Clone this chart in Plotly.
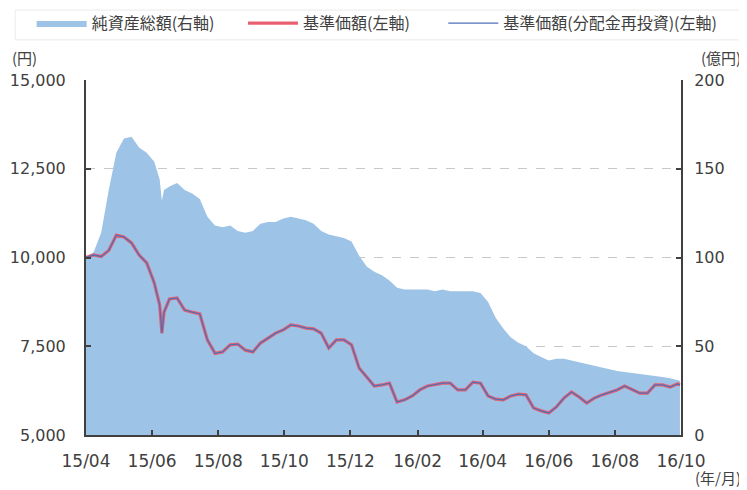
import plotly.graph_objects as go

dates = [
    "2015-04-01", "2015-04-08", "2015-04-15", "2015-04-22", "2015-04-29",
    "2015-05-06", "2015-05-13", "2015-05-20", "2015-05-27", "2015-06-03",
    "2015-06-08", "2015-06-10", "2015-06-12", "2015-06-17", "2015-06-24",
    "2015-07-01", "2015-07-08", "2015-07-15", "2015-07-22", "2015-07-29",
    "2015-08-05", "2015-08-12", "2015-08-19", "2015-08-26", "2015-09-02",
    "2015-09-09", "2015-09-16", "2015-09-23", "2015-09-30", "2015-10-07",
    "2015-10-14", "2015-10-21", "2015-10-28", "2015-11-04", "2015-11-11",
    "2015-11-18", "2015-11-25", "2015-12-02", "2015-12-09", "2015-12-16",
    "2015-12-23", "2015-12-30", "2016-01-06", "2016-01-13", "2016-01-20",
    "2016-01-27", "2016-02-03", "2016-02-10", "2016-02-17", "2016-02-24",
    "2016-03-02", "2016-03-09", "2016-03-16", "2016-03-23", "2016-03-30",
    "2016-04-06", "2016-04-13", "2016-04-20", "2016-04-27", "2016-05-04",
    "2016-05-11", "2016-05-18", "2016-05-25", "2016-06-01", "2016-06-08",
    "2016-06-15", "2016-06-22", "2016-06-29", "2016-07-06", "2016-07-13",
    "2016-07-20", "2016-07-27", "2016-08-03", "2016-08-10", "2016-08-17",
    "2016-08-24", "2016-08-31", "2016-09-07", "2016-09-14", "2016-09-21",
    "2016-09-28", "2016-09-30",
]

# 基準価額 (円)
nav = [
    10000, 10070, 10030, 10200, 10630,
    10580, 10410, 10070, 9850, 9280,
    8660, 7870, 8460, 8830, 8860,
    8520, 8460, 8410, 7680, 7300,
    7340, 7540, 7560, 7390, 7340,
    7590, 7730, 7870, 7960, 8100,
    8070, 8010, 7990, 7870, 7450,
    7680, 7680, 7540, 6890, 6630,
    6380, 6410, 6460, 5930, 5990,
    6100, 6270, 6380, 6410, 6460,
    6460, 6270, 6270, 6490, 6460,
    6100, 6010, 5990, 6100, 6150,
    6130, 5760, 5680, 5620, 5790,
    6040, 6210, 6070, 5900, 6040,
    6130, 6210, 6270, 6380, 6270,
    6180, 6180, 6410, 6410, 6350,
    6440, 6410,
]

# 基準価額(分配金再投資) (円) — 分配実績なしのため基準価額と同値
nav_reinvested = list(nav)

# 純資産総額 (億円)
total_assets = [
    100, 103, 114, 138, 159,
    167, 168, 162, 159, 154,
    144, 132, 138, 140, 142,
    138, 136, 133, 123, 118,
    117, 118, 115, 114, 115,
    119, 120, 120, 122, 123,
    122, 121, 119, 115, 113,
    112, 111, 109, 101, 95,
    92, 90, 87, 83, 82,
    82, 82, 82, 81, 82,
    81, 81, 81, 81, 80,
    75, 66, 60, 55, 52,
    50, 46, 44, 42, 43,
    43, 42, 41, 40, 39,
    38, 37, 36, 35.5, 35,
    34.4, 33.8, 33.2, 32.7, 32,
    31, 30.5,
]

left_ticks = [5000, 7500, 10000, 12500, 15000]
right_ticks = [0, 50, 100, 150, 200]

font_family = "DejaVu Sans, Noto Sans CJK JP, sans-serif"
cjk_family = "Noto Sans CJK JP, sans-serif"
text_color = "#404040"
axis_color = "#404040"

fig = go.Figure()

fig.add_trace(go.Scatter(
    x=dates, y=total_assets, name="純資産総額(右軸)",
    mode="lines", line=dict(width=0, color="#9DC3E6"),
    fill="tozeroy", fillcolor="#9DC3E6", yaxis="y", legend="legend",
))
fig.add_trace(go.Scatter(
    x=dates, y=nav, name="基準価額(左軸)",
    mode="lines", line=dict(width=3.2, color="#E8606F"), yaxis="y2",
    legend="legend2",
))
fig.add_trace(go.Scatter(
    x=dates, y=nav_reinvested, name="基準価額(分配金再投資)(左軸)",
    mode="lines", line=dict(width=1.3, color="#5070B8"), yaxis="y2",
    legend="legend3",
))

tick_common = dict(
    showline=True, linecolor=axis_color, linewidth=2,
    ticks="inside", ticklen=5, tickwidth=2, tickcolor=axis_color,
    zeroline=False, automargin=False,
)


def legend_at(xpos):
    return dict(
        orientation="h", xref="container", x=xpos, y=1.16,
        xanchor="left", yanchor="middle",
        font=dict(family=cjk_family, size=16, color=text_color),
        bgcolor="rgba(0,0,0,0)", itemwidth=50,
    )


fig.update_layout(
    width=739, height=482,
    margin=dict(l=78, r=66, t=72, b=55, autoexpand=False),
    paper_bgcolor="white", plot_bgcolor="white",
    font=dict(family=font_family, size=16, color=text_color),
    showlegend=True,
    legend=legend_at(0.032),
    legend2=legend_at(0.318),
    legend3=legend_at(0.589),
    xaxis=dict(
        type="date", range=["2015-04-01", "2016-10-01"],
        tick0="2015-04-01", dtick="M2", tickformat="%y/%m",
        showgrid=False, tickfont=dict(size=17, color=text_color),
        ticklabelstandoff=10,
        **tick_common,
    ),
    yaxis=dict(
        side="right", range=[0, 200], tickvals=right_ticks,
        ticktext=[str(v) for v in right_ticks],
        showgrid=True, gridcolor="#C8C8C8", griddash="dash", gridwidth=1,
        tickfont=dict(size=16, color=text_color), ticklabelstandoff=8,
        **tick_common,
    ),
    yaxis2=dict(
        side="left", overlaying="y", range=[5000, 15000], tickvals=left_ticks,
        ticktext=[f"{v:,}" for v in left_ticks],
        showgrid=False, tickfont=dict(size=16, color=text_color),
        ticklabelstandoff=15,
        **tick_common,
    ),
    shapes=[
        dict(type="rect", xref="paper", yref="paper",
             x0=-0.119, x1=1.099, y0=1.113, y1=1.197,
             line=dict(color="#EEEAE6", width=1), fillcolor="rgba(0,0,0,0)",
             layer="below"),
    ],
    annotations=[
        dict(text="(円)", xref="paper", yref="paper", x=-0.128, y=1.064,
             xanchor="left", yanchor="middle", showarrow=False,
             font=dict(family=cjk_family, size=15, color=text_color)),
        dict(text="(億円)", xref="paper", yref="paper", x=1.105, y=1.064,
             xanchor="right", yanchor="middle", showarrow=False,
             font=dict(family=cjk_family, size=15, color=text_color)),
        dict(text="(年/月)", xref="paper", yref="paper", x=1.105, y=-0.121,
             xanchor="right", yanchor="middle", showarrow=False,
             font=dict(family=cjk_family, size=15, color=text_color)),
    ],
)

fig.write_html("out.html")
